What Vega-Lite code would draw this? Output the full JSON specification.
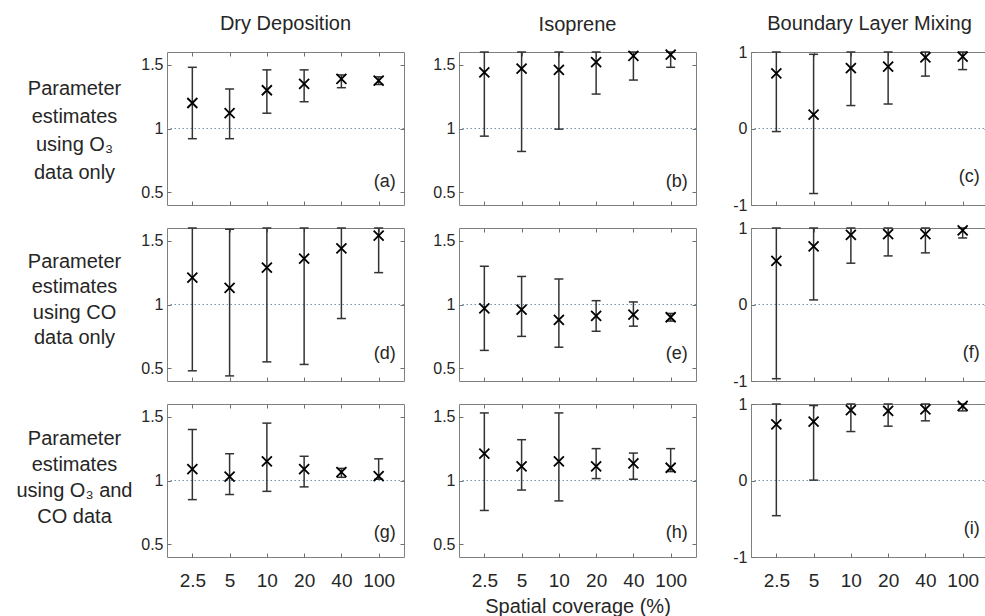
{
  "$schema": "https://vega.github.io/schema/vega-lite/v6.json",
  "background": "white",
  "padding": {"left": 15, "top": 13, "right": 0, "bottom": 6},
  "datasets": {
    "est": [
      {"panel": "(a)", "cov": "2.5", "est": 1.20, "lo": 0.92, "hi": 1.48},
      {"panel": "(a)", "cov": "5", "est": 1.12, "lo": 0.92, "hi": 1.31},
      {"panel": "(a)", "cov": "10", "est": 1.30, "lo": 1.12, "hi": 1.46},
      {"panel": "(a)", "cov": "20", "est": 1.35, "lo": 1.21, "hi": 1.46},
      {"panel": "(a)", "cov": "40", "est": 1.39, "lo": 1.32, "hi": 1.42},
      {"panel": "(a)", "cov": "100", "est": 1.375, "lo": 1.345, "hi": 1.405},
      {"panel": "(b)", "cov": "2.5", "est": 1.44, "lo": 0.94, "hi": 1.6},
      {"panel": "(b)", "cov": "5", "est": 1.47, "lo": 0.82, "hi": 1.6},
      {"panel": "(b)", "cov": "10", "est": 1.46, "lo": 0.995, "hi": 1.6},
      {"panel": "(b)", "cov": "20", "est": 1.52, "lo": 1.27, "hi": 1.6},
      {"panel": "(b)", "cov": "40", "est": 1.57, "lo": 1.38, "hi": 1.6},
      {"panel": "(b)", "cov": "100", "est": 1.58, "lo": 1.48, "hi": 1.6},
      {"panel": "(c)", "cov": "2.5", "est": 0.72, "lo": -0.04, "hi": 1},
      {"panel": "(c)", "cov": "5", "est": 0.18, "lo": -0.85, "hi": 0.97},
      {"panel": "(c)", "cov": "10", "est": 0.79, "lo": 0.30, "hi": 1},
      {"panel": "(c)", "cov": "20", "est": 0.81, "lo": 0.32, "hi": 1},
      {"panel": "(c)", "cov": "40", "est": 0.93, "lo": 0.685, "hi": 1},
      {"panel": "(c)", "cov": "100", "est": 0.94, "lo": 0.77, "hi": 1},
      {"panel": "(d)", "cov": "2.5", "est": 1.21, "lo": 0.48, "hi": 1.6},
      {"panel": "(d)", "cov": "5", "est": 1.13, "lo": 0.44, "hi": 1.59},
      {"panel": "(d)", "cov": "10", "est": 1.29, "lo": 0.55, "hi": 1.6},
      {"panel": "(d)", "cov": "20", "est": 1.36, "lo": 0.53, "hi": 1.6},
      {"panel": "(d)", "cov": "40", "est": 1.44, "lo": 0.89, "hi": 1.6},
      {"panel": "(d)", "cov": "100", "est": 1.54, "lo": 1.25, "hi": 1.6},
      {"panel": "(e)", "cov": "2.5", "est": 0.97, "lo": 0.64, "hi": 1.30},
      {"panel": "(e)", "cov": "5", "est": 0.96, "lo": 0.75, "hi": 1.22},
      {"panel": "(e)", "cov": "10", "est": 0.88, "lo": 0.665, "hi": 1.20},
      {"panel": "(e)", "cov": "20", "est": 0.91, "lo": 0.79, "hi": 1.03},
      {"panel": "(e)", "cov": "40", "est": 0.92, "lo": 0.83, "hi": 1.02},
      {"panel": "(e)", "cov": "100", "est": 0.90, "lo": 0.87, "hi": 0.93},
      {"panel": "(f)", "cov": "2.5", "est": 0.57, "lo": -0.97, "hi": 1},
      {"panel": "(f)", "cov": "5", "est": 0.76, "lo": 0.06, "hi": 1},
      {"panel": "(f)", "cov": "10", "est": 0.91, "lo": 0.54, "hi": 1},
      {"panel": "(f)", "cov": "20", "est": 0.92, "lo": 0.635, "hi": 1},
      {"panel": "(f)", "cov": "40", "est": 0.92, "lo": 0.675, "hi": 1},
      {"panel": "(f)", "cov": "100", "est": 0.97, "lo": 0.87, "hi": 1},
      {"panel": "(g)", "cov": "2.5", "est": 1.09, "lo": 0.85, "hi": 1.40},
      {"panel": "(g)", "cov": "5", "est": 1.03, "lo": 0.89, "hi": 1.21},
      {"panel": "(g)", "cov": "10", "est": 1.15, "lo": 0.915, "hi": 1.45},
      {"panel": "(g)", "cov": "20", "est": 1.09, "lo": 0.95, "hi": 1.19},
      {"panel": "(g)", "cov": "40", "est": 1.065, "lo": 1.025, "hi": 1.095},
      {"panel": "(g)", "cov": "100", "est": 1.035, "lo": 1.01, "hi": 1.17},
      {"panel": "(h)", "cov": "2.5", "est": 1.21, "lo": 0.765, "hi": 1.53},
      {"panel": "(h)", "cov": "5", "est": 1.11, "lo": 0.925, "hi": 1.32},
      {"panel": "(h)", "cov": "10", "est": 1.15, "lo": 0.84, "hi": 1.53},
      {"panel": "(h)", "cov": "20", "est": 1.11, "lo": 1.015, "hi": 1.25},
      {"panel": "(h)", "cov": "40", "est": 1.135, "lo": 1.01, "hi": 1.215},
      {"panel": "(h)", "cov": "100", "est": 1.10, "lo": 1.07, "hi": 1.25},
      {"panel": "(i)", "cov": "2.5", "est": 0.735, "lo": -0.46, "hi": 1},
      {"panel": "(i)", "cov": "5", "est": 0.77, "lo": 0.005, "hi": 0.98},
      {"panel": "(i)", "cov": "10", "est": 0.92, "lo": 0.64, "hi": 1},
      {"panel": "(i)", "cov": "20", "est": 0.91, "lo": 0.71, "hi": 1},
      {"panel": "(i)", "cov": "40", "est": 0.93, "lo": 0.78, "hi": 1},
      {"panel": "(i)", "cov": "100", "est": 0.975, "lo": 0.91, "hi": 1}
    ]
  },
  "data": {"name": "est"},
  "config": {
    "font": "Liberation Sans",
    "view": {"stroke": "#7f7f7f", "strokeWidth": 1},
    "axis": {
      "grid": false, "domain": false, "tickColor": "#6f6f6f", "tickSize": -4, "tickWidth": 1,
      "labelColor": "#262626", "labelFont": "Liberation Sans", "titleFont": "Liberation Sans",
      "titleColor": "#262626", "titleFontWeight": "normal"
    },
    "axisX": {"labelFontSize": 19, "labelPadding": 18, "titleFontSize": 20, "titlePadding": 6, "labelAngle": 0},
    "axisY": {"labelFontSize": 16, "labelPadding": 8, "labelExpr": "'' + datum.value"},
    "title": {"fontSize": 20, "fontWeight": "normal", "color": "#262626", "font": "Liberation Sans", "offset": 18, "frame": "group"},
    "text": {"font": "Liberation Sans"}
  },
  "columns": 3,
  "spacing": {"row": 23, "column": 55},
  "bounds": "flush",
  "concat": [
    {
      "width": 237, "height": 153, "title": "Dry Deposition",
      "transform": [{"filter": "datum.panel === '(a)'"}],
      "resolve": {"axis": {"x": "independent", "y": "independent"}},
      "layer": [
        {"transform": [{"filter": "datum.cov === '100'"}], "mark": {"type": "rule", "color": "#6f93a8", "strokeWidth": 1, "strokeDash": [1.5, 2.5]},
         "encoding": {"y": {"datum": 1, "type": "quantitative", "scale": {"domain": [0.4, 1.6], "nice": false, "zero": false},
           "axis": {"values": [0.5, 1, 1.5], "title": ["Parameter", "estimates", "using O₃", "data only"], "titleAngle": 0, "titleAlign": "center", "titleBaseline": "top", "titleX": -93, "titleY": 26, "titleFontSize": 20, "titleLineHeight": 28}}}},
        {"mark": {"type": "rule", "color": "#333333", "strokeWidth": 1.5},
         "encoding": {"x": {"field": "cov", "type": "ordinal", "scale": {"type": "point", "domain": ["2.5", "5", "10", "20", "40", "100"], "padding": 0.68}, "axis": {"labels": false, "title": null}},
           "y": {"field": "lo", "type": "quantitative", "axis": {"orient": "right", "labels": false, "values": [0.5, 1, 1.5], "title": null}}, "y2": {"field": "hi"}}},
        {"mark": {"type": "tick", "orient": "horizontal", "size": 9, "thickness": 1.5, "color": "#333333", "opacity": 1},
         "encoding": {"x": {"field": "cov", "type": "ordinal", "axis": {"orient": "top", "labels": false, "title": null}}, "y": {"field": "lo", "type": "quantitative", "axis": null}}},
        {"mark": {"type": "tick", "orient": "horizontal", "size": 9, "thickness": 1.5, "color": "#333333", "opacity": 1},
         "encoding": {"x": {"field": "cov", "type": "ordinal", "axis": null}, "y": {"field": "hi", "type": "quantitative", "axis": null}}},
        {"mark": {"type": "point", "shape": "M-1,-1L1,1M-1,1L1,-1", "size": 100, "filled": false, "stroke": "black", "strokeWidth": 1.8, "opacity": 1},
         "encoding": {"x": {"field": "cov", "type": "ordinal", "axis": null}, "y": {"field": "est", "type": "quantitative", "axis": null}}},
        {"transform": [{"filter": "datum.cov === '100'"}], "mark": {"type": "text", "align": "right", "baseline": "middle", "dx": 17, "fontSize": 18, "color": "#262626"},
         "encoding": {"x": {"field": "cov", "type": "ordinal", "axis": null}, "y": {"datum": 0.58, "type": "quantitative", "axis": null}, "text": {"field": "panel"}}}
      ]
    },
    {
      "width": 237, "height": 153, "title": {"text": "Isoprene", "offset": 11},
      "transform": [{"filter": "datum.panel === '(b)'"}],
      "resolve": {"axis": {"x": "independent", "y": "independent"}},
      "layer": [
        {"transform": [{"filter": "datum.cov === '100'"}], "mark": {"type": "rule", "color": "#6f93a8", "strokeWidth": 1, "strokeDash": [1.5, 2.5]},
         "encoding": {"y": {"datum": 1, "type": "quantitative", "scale": {"domain": [0.4, 1.6], "nice": false, "zero": false}, "axis": {"values": [0.5, 1, 1.5], "title": null}}}},
        {"mark": {"type": "rule", "color": "#333333", "strokeWidth": 1.5},
         "encoding": {"x": {"field": "cov", "type": "ordinal", "scale": {"type": "point", "domain": ["2.5", "5", "10", "20", "40", "100"], "padding": 0.68}, "axis": {"labels": false, "title": null}},
           "y": {"field": "lo", "type": "quantitative", "axis": {"orient": "right", "labels": false, "values": [0.5, 1, 1.5], "title": null}}, "y2": {"field": "hi"}}},
        {"mark": {"type": "tick", "orient": "horizontal", "size": 9, "thickness": 1.5, "color": "#333333", "opacity": 1},
         "encoding": {"x": {"field": "cov", "type": "ordinal", "axis": {"orient": "top", "labels": false, "title": null}}, "y": {"field": "lo", "type": "quantitative", "axis": null}}},
        {"mark": {"type": "tick", "orient": "horizontal", "size": 9, "thickness": 1.5, "color": "#333333", "opacity": 1},
         "encoding": {"x": {"field": "cov", "type": "ordinal", "axis": null}, "y": {"field": "hi", "type": "quantitative", "axis": null}}},
        {"mark": {"type": "point", "shape": "M-1,-1L1,1M-1,1L1,-1", "size": 100, "filled": false, "stroke": "black", "strokeWidth": 1.8, "opacity": 1},
         "encoding": {"x": {"field": "cov", "type": "ordinal", "axis": null}, "y": {"field": "est", "type": "quantitative", "axis": null}}},
        {"transform": [{"filter": "datum.cov === '100'"}], "mark": {"type": "text", "align": "right", "baseline": "middle", "dx": 17, "fontSize": 18, "color": "#262626"},
         "encoding": {"x": {"field": "cov", "type": "ordinal", "axis": null}, "y": {"datum": 0.58, "type": "quantitative", "axis": null}, "text": {"field": "panel"}}}
      ]
    },
    {
      "width": 237, "height": 153, "title": {"text": "Boundary Layer Mixing", "offset": 10},
      "transform": [{"filter": "datum.panel === '(c)'"}],
      "resolve": {"axis": {"x": "independent", "y": "independent"}},
      "layer": [
        {"transform": [{"filter": "datum.cov === '100'"}], "mark": {"type": "rule", "color": "#6f93a8", "strokeWidth": 1, "strokeDash": [1.5, 2.5]},
         "encoding": {"y": {"datum": 0, "type": "quantitative", "scale": {"domain": [-1, 1], "nice": false, "zero": false}, "axis": {"values": [-1, 0, 1], "title": null}}}},
        {"mark": {"type": "rule", "color": "#333333", "strokeWidth": 1.5},
         "encoding": {"x": {"field": "cov", "type": "ordinal", "scale": {"type": "point", "domain": ["2.5", "5", "10", "20", "40", "100"], "padding": 0.68}, "axis": {"labels": false, "title": null}},
           "y": {"field": "lo", "type": "quantitative", "axis": {"orient": "right", "labels": false, "values": [-1, 0, 1], "title": null}}, "y2": {"field": "hi"}}},
        {"mark": {"type": "tick", "orient": "horizontal", "size": 9, "thickness": 1.5, "color": "#333333", "opacity": 1},
         "encoding": {"x": {"field": "cov", "type": "ordinal", "axis": {"orient": "top", "labels": false, "title": null}}, "y": {"field": "lo", "type": "quantitative", "axis": null}}},
        {"mark": {"type": "tick", "orient": "horizontal", "size": 9, "thickness": 1.5, "color": "#333333", "opacity": 1},
         "encoding": {"x": {"field": "cov", "type": "ordinal", "axis": null}, "y": {"field": "hi", "type": "quantitative", "axis": null}}},
        {"mark": {"type": "point", "shape": "M-1,-1L1,1M-1,1L1,-1", "size": 100, "filled": false, "stroke": "black", "strokeWidth": 1.8, "opacity": 1},
         "encoding": {"x": {"field": "cov", "type": "ordinal", "axis": null}, "y": {"field": "est", "type": "quantitative", "axis": null}}},
        {"transform": [{"filter": "datum.cov === '100'"}], "mark": {"type": "text", "align": "right", "baseline": "middle", "dx": 17, "fontSize": 18, "color": "#262626"},
         "encoding": {"x": {"field": "cov", "type": "ordinal", "axis": null}, "y": {"datum": -0.64, "type": "quantitative", "axis": null}, "text": {"field": "panel"}}}
      ]
    },
    {
      "width": 237, "height": 153,
      "transform": [{"filter": "datum.panel === '(d)'"}],
      "resolve": {"axis": {"x": "independent", "y": "independent"}},
      "layer": [
        {"transform": [{"filter": "datum.cov === '100'"}], "mark": {"type": "rule", "color": "#6f93a8", "strokeWidth": 1, "strokeDash": [1.5, 2.5]},
         "encoding": {"y": {"datum": 1, "type": "quantitative", "scale": {"domain": [0.4, 1.6], "nice": false, "zero": false},
           "axis": {"values": [0.5, 1, 1.5], "title": ["Parameter", "estimates", "using CO", "data only"], "titleAngle": 0, "titleAlign": "center", "titleBaseline": "top", "titleX": -93, "titleY": 23, "titleFontSize": 20, "titleLineHeight": 25.5}}}},
        {"mark": {"type": "rule", "color": "#333333", "strokeWidth": 1.5},
         "encoding": {"x": {"field": "cov", "type": "ordinal", "scale": {"type": "point", "domain": ["2.5", "5", "10", "20", "40", "100"], "padding": 0.68}, "axis": {"labels": false, "title": null}},
           "y": {"field": "lo", "type": "quantitative", "axis": {"orient": "right", "labels": false, "values": [0.5, 1, 1.5], "title": null}}, "y2": {"field": "hi"}}},
        {"mark": {"type": "tick", "orient": "horizontal", "size": 9, "thickness": 1.5, "color": "#333333", "opacity": 1},
         "encoding": {"x": {"field": "cov", "type": "ordinal", "axis": {"orient": "top", "labels": false, "title": null}}, "y": {"field": "lo", "type": "quantitative", "axis": null}}},
        {"mark": {"type": "tick", "orient": "horizontal", "size": 9, "thickness": 1.5, "color": "#333333", "opacity": 1},
         "encoding": {"x": {"field": "cov", "type": "ordinal", "axis": null}, "y": {"field": "hi", "type": "quantitative", "axis": null}}},
        {"mark": {"type": "point", "shape": "M-1,-1L1,1M-1,1L1,-1", "size": 100, "filled": false, "stroke": "black", "strokeWidth": 1.8, "opacity": 1},
         "encoding": {"x": {"field": "cov", "type": "ordinal", "axis": null}, "y": {"field": "est", "type": "quantitative", "axis": null}}},
        {"transform": [{"filter": "datum.cov === '100'"}], "mark": {"type": "text", "align": "right", "baseline": "middle", "dx": 17, "fontSize": 18, "color": "#262626"},
         "encoding": {"x": {"field": "cov", "type": "ordinal", "axis": null}, "y": {"datum": 0.61, "type": "quantitative", "axis": null}, "text": {"field": "panel"}}}
      ]
    },
    {
      "width": 237, "height": 153,
      "transform": [{"filter": "datum.panel === '(e)'"}],
      "resolve": {"axis": {"x": "independent", "y": "independent"}},
      "layer": [
        {"transform": [{"filter": "datum.cov === '100'"}], "mark": {"type": "rule", "color": "#6f93a8", "strokeWidth": 1, "strokeDash": [1.5, 2.5]},
         "encoding": {"y": {"datum": 1, "type": "quantitative", "scale": {"domain": [0.4, 1.6], "nice": false, "zero": false}, "axis": {"values": [0.5, 1, 1.5], "title": null}}}},
        {"mark": {"type": "rule", "color": "#333333", "strokeWidth": 1.5},
         "encoding": {"x": {"field": "cov", "type": "ordinal", "scale": {"type": "point", "domain": ["2.5", "5", "10", "20", "40", "100"], "padding": 0.68}, "axis": {"labels": false, "title": null}},
           "y": {"field": "lo", "type": "quantitative", "axis": {"orient": "right", "labels": false, "values": [0.5, 1, 1.5], "title": null}}, "y2": {"field": "hi"}}},
        {"mark": {"type": "tick", "orient": "horizontal", "size": 9, "thickness": 1.5, "color": "#333333", "opacity": 1},
         "encoding": {"x": {"field": "cov", "type": "ordinal", "axis": {"orient": "top", "labels": false, "title": null}}, "y": {"field": "lo", "type": "quantitative", "axis": null}}},
        {"mark": {"type": "tick", "orient": "horizontal", "size": 9, "thickness": 1.5, "color": "#333333", "opacity": 1},
         "encoding": {"x": {"field": "cov", "type": "ordinal", "axis": null}, "y": {"field": "hi", "type": "quantitative", "axis": null}}},
        {"mark": {"type": "point", "shape": "M-1,-1L1,1M-1,1L1,-1", "size": 100, "filled": false, "stroke": "black", "strokeWidth": 1.8, "opacity": 1},
         "encoding": {"x": {"field": "cov", "type": "ordinal", "axis": null}, "y": {"field": "est", "type": "quantitative", "axis": null}}},
        {"transform": [{"filter": "datum.cov === '100'"}], "mark": {"type": "text", "align": "right", "baseline": "middle", "dx": 17, "fontSize": 18, "color": "#262626"},
         "encoding": {"x": {"field": "cov", "type": "ordinal", "axis": null}, "y": {"datum": 0.61, "type": "quantitative", "axis": null}, "text": {"field": "panel"}}}
      ]
    },
    {
      "width": 237, "height": 153,
      "transform": [{"filter": "datum.panel === '(f)'"}],
      "resolve": {"axis": {"x": "independent", "y": "independent"}},
      "layer": [
        {"transform": [{"filter": "datum.cov === '100'"}], "mark": {"type": "rule", "color": "#6f93a8", "strokeWidth": 1, "strokeDash": [1.5, 2.5]},
         "encoding": {"y": {"datum": 0, "type": "quantitative", "scale": {"domain": [-1, 1], "nice": false, "zero": false}, "axis": {"values": [-1, 0, 1], "title": null}}}},
        {"mark": {"type": "rule", "color": "#333333", "strokeWidth": 1.5},
         "encoding": {"x": {"field": "cov", "type": "ordinal", "scale": {"type": "point", "domain": ["2.5", "5", "10", "20", "40", "100"], "padding": 0.68}, "axis": {"labels": false, "title": null}},
           "y": {"field": "lo", "type": "quantitative", "axis": {"orient": "right", "labels": false, "values": [-1, 0, 1], "title": null}}, "y2": {"field": "hi"}}},
        {"mark": {"type": "tick", "orient": "horizontal", "size": 9, "thickness": 1.5, "color": "#333333", "opacity": 1},
         "encoding": {"x": {"field": "cov", "type": "ordinal", "axis": {"orient": "top", "labels": false, "title": null}}, "y": {"field": "lo", "type": "quantitative", "axis": null}}},
        {"mark": {"type": "tick", "orient": "horizontal", "size": 9, "thickness": 1.5, "color": "#333333", "opacity": 1},
         "encoding": {"x": {"field": "cov", "type": "ordinal", "axis": null}, "y": {"field": "hi", "type": "quantitative", "axis": null}}},
        {"mark": {"type": "point", "shape": "M-1,-1L1,1M-1,1L1,-1", "size": 100, "filled": false, "stroke": "black", "strokeWidth": 1.8, "opacity": 1},
         "encoding": {"x": {"field": "cov", "type": "ordinal", "axis": null}, "y": {"field": "est", "type": "quantitative", "axis": null}}},
        {"transform": [{"filter": "datum.cov === '100'"}], "mark": {"type": "text", "align": "right", "baseline": "middle", "dx": 17, "fontSize": 18, "color": "#262626"},
         "encoding": {"x": {"field": "cov", "type": "ordinal", "axis": null}, "y": {"datum": -0.64, "type": "quantitative", "axis": null}, "text": {"field": "panel"}}}
      ]
    },
    {
      "width": 237, "height": 153,
      "transform": [{"filter": "datum.panel === '(g)'"}],
      "resolve": {"axis": {"x": "independent", "y": "independent"}},
      "layer": [
        {"transform": [{"filter": "datum.cov === '100'"}], "mark": {"type": "rule", "color": "#6f93a8", "strokeWidth": 1, "strokeDash": [1.5, 2.5]},
         "encoding": {"y": {"datum": 1, "type": "quantitative", "scale": {"domain": [0.4, 1.6], "nice": false, "zero": false},
           "axis": {"values": [0.5, 1, 1.5], "title": ["Parameter", "estimates", "using O₃ and", "CO data"], "titleAngle": 0, "titleAlign": "center", "titleBaseline": "top", "titleX": -93, "titleY": 24, "titleFontSize": 20, "titleLineHeight": 26}}}},
        {"mark": {"type": "rule", "color": "#333333", "strokeWidth": 1.5},
         "encoding": {"x": {"field": "cov", "type": "ordinal", "scale": {"type": "point", "domain": ["2.5", "5", "10", "20", "40", "100"], "padding": 0.68}, "axis": {"title": null}},
           "y": {"field": "lo", "type": "quantitative", "axis": {"orient": "right", "labels": false, "values": [0.5, 1, 1.5], "title": null}}, "y2": {"field": "hi"}}},
        {"mark": {"type": "tick", "orient": "horizontal", "size": 9, "thickness": 1.5, "color": "#333333", "opacity": 1},
         "encoding": {"x": {"field": "cov", "type": "ordinal", "axis": {"orient": "top", "labels": false, "title": null}}, "y": {"field": "lo", "type": "quantitative", "axis": null}}},
        {"mark": {"type": "tick", "orient": "horizontal", "size": 9, "thickness": 1.5, "color": "#333333", "opacity": 1},
         "encoding": {"x": {"field": "cov", "type": "ordinal", "axis": null}, "y": {"field": "hi", "type": "quantitative", "axis": null}}},
        {"mark": {"type": "point", "shape": "M-1,-1L1,1M-1,1L1,-1", "size": 100, "filled": false, "stroke": "black", "strokeWidth": 1.8, "opacity": 1},
         "encoding": {"x": {"field": "cov", "type": "ordinal", "axis": null}, "y": {"field": "est", "type": "quantitative", "axis": null}}},
        {"transform": [{"filter": "datum.cov === '100'"}], "mark": {"type": "text", "align": "right", "baseline": "middle", "dx": 17, "fontSize": 18, "color": "#262626"},
         "encoding": {"x": {"field": "cov", "type": "ordinal", "axis": null}, "y": {"datum": 0.59, "type": "quantitative", "axis": null}, "text": {"field": "panel"}}}
      ]
    },
    {
      "width": 237, "height": 153,
      "transform": [{"filter": "datum.panel === '(h)'"}],
      "resolve": {"axis": {"x": "independent", "y": "independent"}},
      "layer": [
        {"transform": [{"filter": "datum.cov === '100'"}], "mark": {"type": "rule", "color": "#6f93a8", "strokeWidth": 1, "strokeDash": [1.5, 2.5]},
         "encoding": {"y": {"datum": 1, "type": "quantitative", "scale": {"domain": [0.4, 1.6], "nice": false, "zero": false}, "axis": {"values": [0.5, 1, 1.5], "title": null}}}},
        {"mark": {"type": "rule", "color": "#333333", "strokeWidth": 1.5},
         "encoding": {"x": {"field": "cov", "type": "ordinal", "scale": {"type": "point", "domain": ["2.5", "5", "10", "20", "40", "100"], "padding": 0.68}, "axis": {"title": "Spatial coverage (%)"}},
           "y": {"field": "lo", "type": "quantitative", "axis": {"orient": "right", "labels": false, "values": [0.5, 1, 1.5], "title": null}}, "y2": {"field": "hi"}}},
        {"mark": {"type": "tick", "orient": "horizontal", "size": 9, "thickness": 1.5, "color": "#333333", "opacity": 1},
         "encoding": {"x": {"field": "cov", "type": "ordinal", "axis": {"orient": "top", "labels": false, "title": null}}, "y": {"field": "lo", "type": "quantitative", "axis": null}}},
        {"mark": {"type": "tick", "orient": "horizontal", "size": 9, "thickness": 1.5, "color": "#333333", "opacity": 1},
         "encoding": {"x": {"field": "cov", "type": "ordinal", "axis": null}, "y": {"field": "hi", "type": "quantitative", "axis": null}}},
        {"mark": {"type": "point", "shape": "M-1,-1L1,1M-1,1L1,-1", "size": 100, "filled": false, "stroke": "black", "strokeWidth": 1.8, "opacity": 1},
         "encoding": {"x": {"field": "cov", "type": "ordinal", "axis": null}, "y": {"field": "est", "type": "quantitative", "axis": null}}},
        {"transform": [{"filter": "datum.cov === '100'"}], "mark": {"type": "text", "align": "right", "baseline": "middle", "dx": 17, "fontSize": 18, "color": "#262626"},
         "encoding": {"x": {"field": "cov", "type": "ordinal", "axis": null}, "y": {"datum": 0.59, "type": "quantitative", "axis": null}, "text": {"field": "panel"}}}
      ]
    },
    {
      "width": 237, "height": 153,
      "transform": [{"filter": "datum.panel === '(i)'"}],
      "resolve": {"axis": {"x": "independent", "y": "independent"}},
      "layer": [
        {"transform": [{"filter": "datum.cov === '100'"}], "mark": {"type": "rule", "color": "#6f93a8", "strokeWidth": 1, "strokeDash": [1.5, 2.5]},
         "encoding": {"y": {"datum": 0, "type": "quantitative", "scale": {"domain": [-1, 1], "nice": false, "zero": false}, "axis": {"values": [-1, 0, 1], "title": null}}}},
        {"mark": {"type": "rule", "color": "#333333", "strokeWidth": 1.5},
         "encoding": {"x": {"field": "cov", "type": "ordinal", "scale": {"type": "point", "domain": ["2.5", "5", "10", "20", "40", "100"], "padding": 0.68}, "axis": {"title": null}},
           "y": {"field": "lo", "type": "quantitative", "axis": {"orient": "right", "labels": false, "values": [-1, 0, 1], "title": null}}, "y2": {"field": "hi"}}},
        {"mark": {"type": "tick", "orient": "horizontal", "size": 9, "thickness": 1.5, "color": "#333333", "opacity": 1},
         "encoding": {"x": {"field": "cov", "type": "ordinal", "axis": {"orient": "top", "labels": false, "title": null}}, "y": {"field": "lo", "type": "quantitative", "axis": null}}},
        {"mark": {"type": "tick", "orient": "horizontal", "size": 9, "thickness": 1.5, "color": "#333333", "opacity": 1},
         "encoding": {"x": {"field": "cov", "type": "ordinal", "axis": null}, "y": {"field": "hi", "type": "quantitative", "axis": null}}},
        {"mark": {"type": "point", "shape": "M-1,-1L1,1M-1,1L1,-1", "size": 100, "filled": false, "stroke": "black", "strokeWidth": 1.8, "opacity": 1},
         "encoding": {"x": {"field": "cov", "type": "ordinal", "axis": null}, "y": {"field": "est", "type": "quantitative", "axis": null}}},
        {"transform": [{"filter": "datum.cov === '100'"}], "mark": {"type": "text", "align": "right", "baseline": "middle", "dx": 17, "fontSize": 18, "color": "#262626"},
         "encoding": {"x": {"field": "cov", "type": "ordinal", "axis": null}, "y": {"datum": -0.64, "type": "quantitative", "axis": null}, "text": {"field": "panel"}}}
      ]
    }
  ]
}
